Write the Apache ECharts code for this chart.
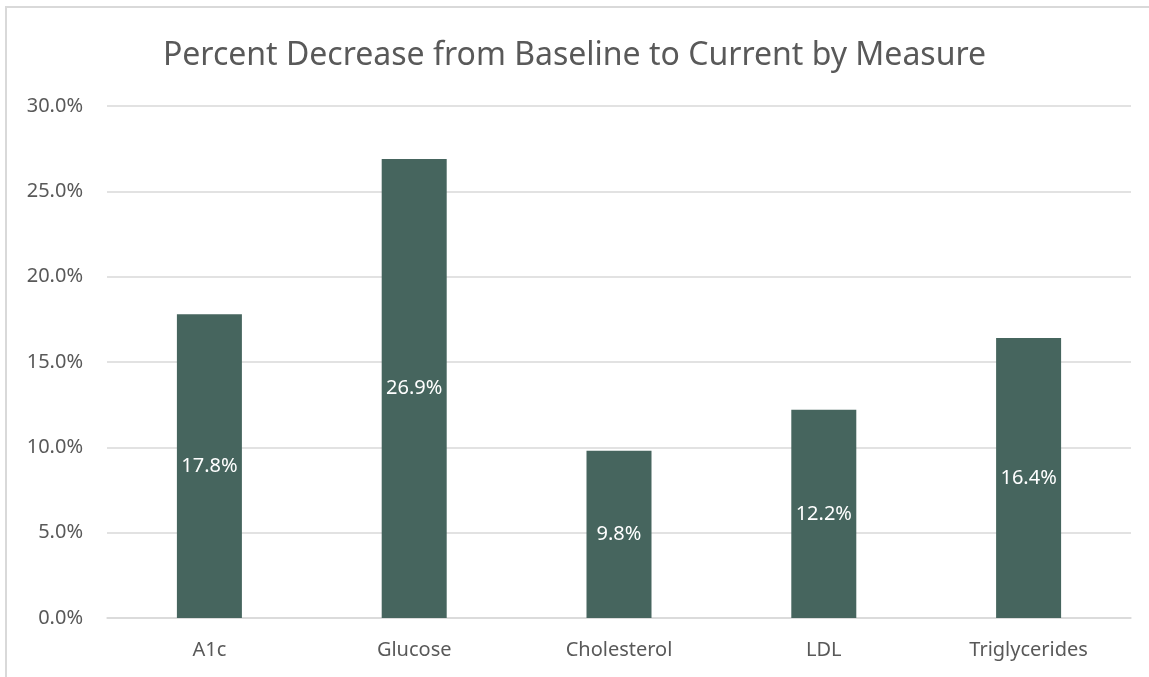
<!DOCTYPE html>
<html>
<head>
<meta charset="utf-8">
<script src="https://cdn.jsdelivr.net/npm/echarts@6/dist/echarts.min.js"></script>
<style>
  html, body { margin: 0; padding: 0; background: #fff; }
</style>
</head>
<body>
<div id="main" style="width: 1149px;height:677px;"></div>
<script>
var categories = ['A1c', 'Glucose', 'Cholesterol', 'LDL', 'Triglycerides'];
var decreases = [17.8, 26.9, 9.8, 12.2, 16.4];

var myChart = echarts.init(document.getElementById('main'));
var font = 'Noto Sans';
var option = {
  animation: false,
  backgroundColor: '#fff',
  title: {
    text: 'Percent Decrease from Baseline to Current by Measure',
    left: 'center',
    top: 35,
    textStyle: { fontFamily: font, fontSize: 32, fontWeight: 'normal', color: '#595959' }
  },
  graphic: [{
    type: 'rect',
    shape: { x: 6, y: 7, width: 1200, height: 700 },
    style: { fill: 'none', stroke: '#d9d9d9', lineWidth: 2 },
    silent: true
  }],
  grid: { left: 107, right: 18, top: 106, bottom: 59 },
  xAxis: {
    type: 'category',
    data: categories,
    axisLine: { lineStyle: { color: '#d9d9d9', width: 1.5 } },
    axisTick: { show: false },
    axisLabel: { fontFamily: font, fontSize: 20, color: '#595959', margin: 22 }
  },
  yAxis: {
    type: 'value',
    min: 0,
    max: 30,
    interval: 5,
    axisLine: { show: false },
    axisTick: { show: false },
    splitLine: { lineStyle: { color: '#d9d9d9', width: 1.5 } },
    axisLabel: {
      fontFamily: font, fontSize: 20, color: '#595959', margin: 24,
      formatter: function (v) { return v.toFixed(1) + '%'; }
    }
  },
  series: [{
    type: 'bar',
    data: decreases,
    barWidth: 65,
    itemStyle: { color: '#46655e' },
    label: {
      show: true,
      position: 'inside',
      fontFamily: font,
      fontSize: 20,
      color: '#fff',
      formatter: function (p) { return p.value.toFixed(1) + '%'; }
    }
  }]
};
myChart.setOption(option);
window.addEventListener('resize', function () { myChart.resize(); });
</script>
</body>
</html>
